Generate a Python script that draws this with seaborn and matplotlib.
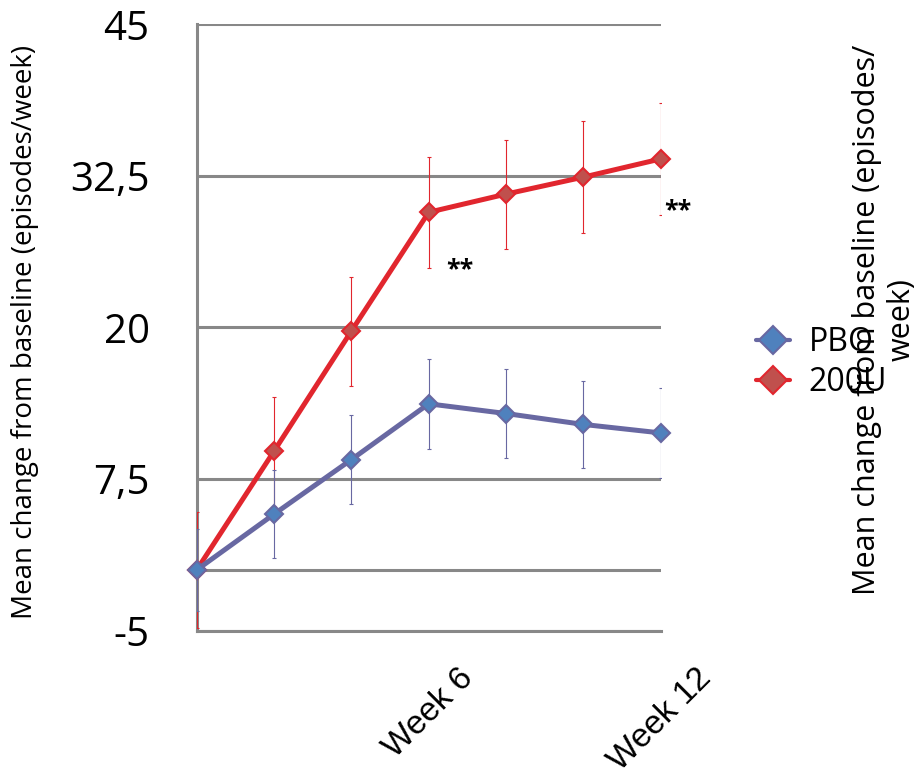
import matplotlib
matplotlib.use("Agg")
import matplotlib.pyplot as plt
from matplotlib.lines import Line2D
import pandas as pd
import seaborn as sns

# Visits (weekly) and their axis labels
visits = [0, 1, 2, 3, 4, 5, 6]
visit_labels = ["", "", "", "Week 6", "", "", "Week 12"]

# Mean change from baseline (episodes/week) with error bars
pbo_mean = [0.0, 4.6, 9.1, 13.7, 12.9, 12.0, 11.3]
pbo_err = [3.4, 3.6, 3.7, 3.7, 3.7, 3.6, 3.7]
u200_mean = [0.0, 9.8, 19.7, 29.5, 31.0, 32.4, 33.9]
u200_err = [4.8, 4.5, 4.5, 4.6, 4.5, 4.6, 4.6]

groups = ["PBO", "200U"]

y_ticks = [-5, 7.5, 20, 32.5, 45]
y_tick_labels = ["-5", "7,5", "20", "32,5", "45"]

# Significance markers (x in visit units, y in data units)
sig_x = [3.40, 6.22]
sig_y = [24.8, 29.6]
sig_text = ["**", "**"]

ylabel = "Mean change from baseline (episodes/week)"
ylabel_right = "Mean change from baseline (episodes/\nweek)"

df = pd.DataFrame({
    "visit": visits * 2,
    "change": pbo_mean + u200_mean,
    "group": [groups[0]] * len(visits) + [groups[1]] * len(visits),
})

sns.set_style("white")
plt.rcParams["font.family"] = ["Open Sans", "DejaVu Sans"]
plt.rcParams["text.color"] = "black"
plt.rcParams["xtick.labelcolor"] = "black"
plt.rcParams["ytick.labelcolor"] = "black"

GRID = "#888888"
PURPLE = "#6868A2"
BLUE = "#4F81BD"
RED = "#E1262E"
RED_FILL = "#C0504D"

fig = plt.figure(figsize=(9.18, 7.71), dpi=100)
ax = fig.add_axes([0.2143, 0.1822, 0.5054, 0.7862])

styles = {
    "PBO": dict(color=PURPLE, markerfacecolor=BLUE, markeredgecolor=PURPLE, zorder=5),
    "200U": dict(color=RED, markerfacecolor=RED_FILL, markeredgecolor=RED, zorder=4),
}
errs = {"PBO": (pbo_mean, pbo_err, PURPLE), "200U": (u200_mean, u200_err, RED)}

for g in ["200U", "PBO"]:
    mean, err, ecol = errs[g]
    ax.errorbar(visits, mean, yerr=err, fmt="none", ecolor=ecol, elinewidth=0.8,
                capsize=1.5, capthick=0.8, zorder=3)
    sns.lineplot(data=df[df["group"] == g], x="visit", y="change", ax=ax,
                 marker="D", markersize=9, markeredgewidth=1.5, linewidth=3.6,
                 clip_on=False, legend=False, errorbar=None, **styles[g])

# Axis frame and grid
ax.set_xlim(0, 6)
ax.set_ylim(-5, 45)
ax.set_yticks(y_ticks)
ax.set_yticklabels(y_tick_labels)
ax.set_xticks(visits)
ax.set_xticklabels(visit_labels, rotation=45, ha="center")
for lab in ax.get_xticklabels():
    lab.set_fontfamily(["Liberation Sans", "DejaVu Sans"])
ax.yaxis.grid(True, color=GRID, lw=2.2)
ax.xaxis.grid(False)
ax.axhline(0, color=GRID, lw=2.2, zorder=1)
ax.set_axisbelow(True)
for side in ["top", "right"]:
    ax.spines[side].set_visible(False)
for side in ["left", "bottom"]:
    ax.spines[side].set_color(GRID)
    ax.spines[side].set_linewidth(2.2)
ax.tick_params(axis="y", length=6, width=2.2, color=GRID, pad=28, labelsize=29,
               labelcolor="black")
ax.tick_params(axis="x", length=6, width=2.2, color=GRID, pad=17, labelsize=24,
               labelcolor="black")
ax.set_xlabel("")
ax.set_ylabel("")

for x, y, t in zip(sig_x, sig_y, sig_text):
    ax.text(x, y, t, ha="center", va="center", fontsize=18, fontweight="bold",
            color="black", zorder=6)

# Axis titles
fig.text(0.027, 0.569, ylabel, rotation=90, ha="center", va="center", fontsize=20)
fig.text(0.963, 0.585, ylabel_right, rotation=90, ha="center", va="center",
         multialignment="center", fontsize=22)

# Legend
handles = [
    Line2D([0], [0], color=PURPLE, lw=3, marker="D", markersize=14,
           markerfacecolor=BLUE, markeredgecolor=PURPLE, markeredgewidth=1.5),
    Line2D([0], [0], color=RED, lw=3, marker="D", markersize=14,
           markerfacecolor=RED_FILL, markeredgecolor=RED, markeredgewidth=1.5),
]
fig.legend(handles, groups, loc="center left", bbox_to_anchor=(0.8235, 0.530),
           frameon=False, fontsize=23, handlelength=1.05, handletextpad=0.6,
           labelspacing=0.22, borderpad=0, borderaxespad=0)

fig.savefig("out.png", dpi=100)
